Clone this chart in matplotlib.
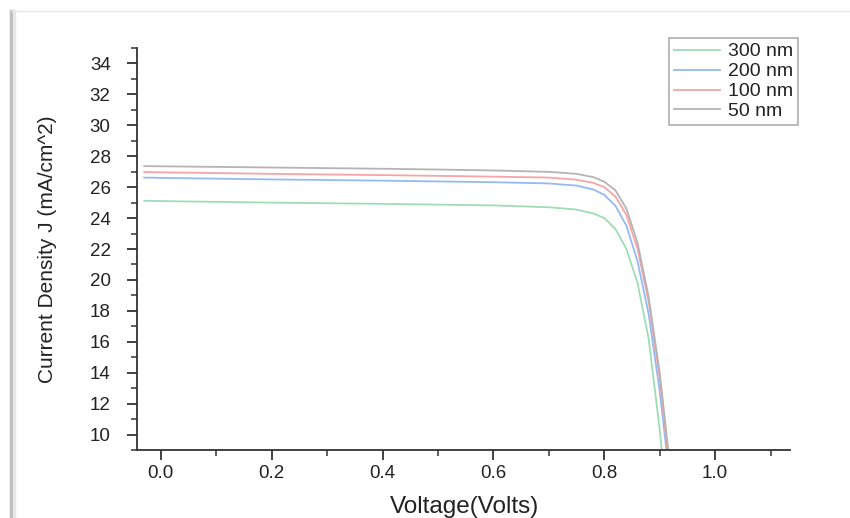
import matplotlib
matplotlib.use("Agg")
import matplotlib.pyplot as plt
from matplotlib.lines import Line2D
from matplotlib.ticker import MultipleLocator

plt.rcParams['font.family'] = ['Liberation Sans', 'DejaVu Sans']

voltage = [-0.03, 0.0, 0.1, 0.2, 0.3, 0.4, 0.5, 0.6, 0.7, 0.75, 0.78, 0.80,
           0.82, 0.84, 0.86, 0.88, 0.90, 0.92]

j_300 = [25.12, 25.10, 25.05, 25.00, 24.96, 24.92, 24.87, 24.82, 24.70, 24.55,
         24.30, 24.00, 23.30, 22.00, 19.80, 16.20, 10.30, 3.0]
j_200 = [26.62, 26.60, 26.55, 26.50, 26.46, 26.42, 26.37, 26.32, 26.24, 26.10,
         25.85, 25.50, 24.80, 23.50, 21.20, 17.80, 12.80, 6.5]
j_100 = [26.98, 26.96, 26.91, 26.86, 26.82, 26.78, 26.73, 26.68, 26.62, 26.48,
         26.28, 26.00, 25.40, 24.20, 22.00, 18.60, 13.60, 7.0]
j_50 = [27.36, 27.35, 27.31, 27.27, 27.23, 27.19, 27.14, 27.08, 26.99, 26.86,
        26.65, 26.35, 25.80, 24.60, 22.40, 18.90, 14.00, 7.5]

labels = ["300 nm", "200 nm", "100 nm", "50 nm"]
colors = ["#9fdcb5", "#95b9f2", "#f5a5a5", "#b4b4b4"]
series = [j_300, j_200, j_100, j_50]

fig = plt.figure(figsize=(8.5, 5.18), dpi=100)
ax = fig.add_axes([137/850, 1-450/518, (790-137)/850, (450-48)/518])

for vals, lab, col in zip(series, labels, colors):
    ax.plot(voltage, vals, color=col, lw=1.3, label=lab)

ax.set_xlim(-0.043, 1.135)
ax.set_ylim(9, 35)
ax.xaxis.set_minor_locator(MultipleLocator(0.1))
ax.yaxis.set_minor_locator(MultipleLocator(1))
ax.set_yticks(range(10, 35, 2))
ax.set_xticks([0.0, 0.2, 0.4, 0.6, 0.8, 1.0])
ax.set_xticklabels(["0.0", "0.2", "0.4", "0.6", "0.8", "1.0"])

for s in ["top", "right"]:
    ax.spines[s].set_visible(False)
for s in ["left", "bottom"]:
    ax.spines[s].set_color("#333333")
    ax.spines[s].set_linewidth(1.3)

ax.tick_params(which="major", direction="out", length=7, width=1.3,
               colors="#333333", labelsize=13.5, labelcolor="#222222")
ax.tick_params(axis="y", which="major", pad=12)
ax.tick_params(axis="x", which="major", pad=4)
ax.tick_params(which="minor", direction="out", length=4, width=1.1, colors="#333333")

ax.set_ylabel("Current Density J (mA/cm^2)", fontsize=15, color="#222222")
ax.yaxis.set_label_coords((57-137)/(790-137), 0.5)
fig.text(465/850, 1-507/518, "Voltage(Volts)", fontsize=17.5, color="#222222",
         ha="center", va="center")

leg = ax.legend(loc="upper right", bbox_to_anchor=(798/850, 1-38/518),
                bbox_transform=fig.transFigure, fontsize=14, frameon=True,
                fancybox=False, handlelength=2.4, handletextpad=0.4,
                borderpad=0.25, labelspacing=0.12, borderaxespad=0)
leg.get_frame().set_edgecolor("#999999")
leg.get_frame().set_linewidth(1.2)
for t in leg.get_texts():
    t.set_color("#222222")

# screenshot frame
fig.add_artist(Line2D([11/850, 11/850], [0, 1-11/518], transform=fig.transFigure,
                      color="#bdbdbd", lw=2.5))
fig.add_artist(Line2D([14/850, 14/850], [0, 1-11/518], transform=fig.transFigure,
                      color="#e6e6e6", lw=2.5))
fig.add_artist(Line2D([11/850, 1], [1-11/518, 1-11/518], transform=fig.transFigure,
                      color="#e8e8e8", lw=1))

fig.savefig("out.png", dpi=100)
